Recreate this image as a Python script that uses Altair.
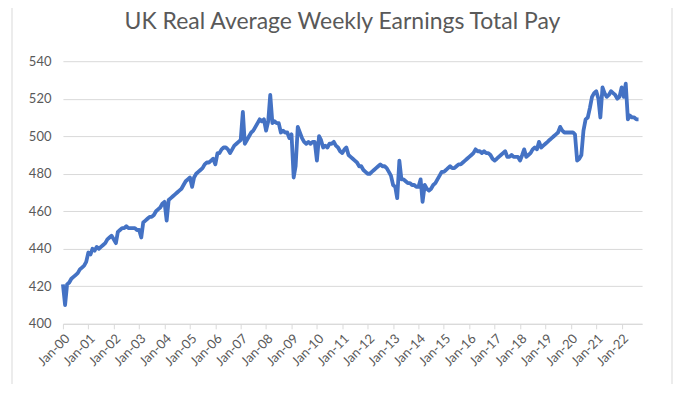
import altair as alt
import pandas as pd

# Monthly values (Jan-2000 .. Sep-2022)
y2000 = [421, 410, 421, 422, 424, 425, 426, 427, 429, 430, 431, 433]
y2001 = [438, 437, 440, 439, 441, 440, 441, 442, 443, 445, 446, 447]
y2002 = [445, 443, 449, 450, 451, 451, 452, 451, 451, 451, 451, 450]
y2003 = [450, 446, 454, 455, 456, 457, 457, 458, 460, 461, 462, 464]
y2004 = [465, 455, 466, 467, 468, 469, 470, 471, 472, 474, 476, 477]
y2005 = [478, 473, 478, 480, 481, 482, 483, 485, 486, 486, 487, 488]
y2006 = [485, 491, 491, 493, 494, 494, 493, 491, 493, 495, 496, 497]
y2007 = [498, 513, 496, 498, 500, 502, 503, 505, 507, 509, 508, 509]
y2008 = [503, 508, 522, 507, 508, 507, 507, 502, 503, 502, 502, 499]
y2009 = [501, 478, 484, 505, 502, 499, 497, 496, 497, 496, 497, 497]
y2010 = [487, 500, 498, 494, 495, 494, 496, 496, 497, 495, 494, 492]
y2011 = [491, 493, 494, 490, 489, 488, 487, 486, 484, 484, 482, 481]
y2012 = [480, 480, 481, 482, 483, 484, 485, 484, 484, 483, 481, 479]
y2013 = [474, 473, 467, 487, 477, 477, 476, 475, 475, 474, 474, 473]
y2014 = [473, 477, 465, 474, 472, 471, 472, 474, 475, 477, 479, 481]
y2015 = [481, 482, 483, 484, 483, 483, 484, 485, 485, 486, 487, 488]
y2016 = [489, 490, 491, 493, 492, 492, 491, 492, 491, 491, 490, 488]
y2017 = [487, 488, 489, 490, 491, 492, 489, 489, 490, 489, 489, 489]
y2018 = [487, 490, 493, 489, 490, 491, 493, 494, 493, 497, 494, 495]
y2019 = [496, 497, 498, 499, 500, 501, 502, 505, 503, 502, 502, 502]
y2020 = [502, 502, 501, 487, 488, 490, 503, 509, 510, 515, 521, 523]
y2021 = [524, 520, 510, 526, 523, 521, 522, 524, 523, 522, 520, 521]
y2022 = [526, 521, 528, 509, 511, 510, 510, 509, 509]

years = list(range(2000, 2023))
yearly = [y2000, y2001, y2002, y2003, y2004, y2005, y2006, y2007, y2008,
          y2009, y2010, y2011, y2012, y2013, y2014, y2015, y2016, y2017,
          y2018, y2019, y2020, y2021, y2022]

dates, values = [], []
for yr, vals in zip(years, yearly):
    for i, v in enumerate(vals):
        dates.append(f"{yr}-{i + 1:02d}-01T00:00:00")
        values.append(v)

df = pd.DataFrame({"date": dates, "value": values})

FONT = "Lato"
GREY = "#595959"

tick_dates = [alt.DateTime(year=y, month=1, date=1) for y in years]

line = alt.Chart(df).mark_line(color="#4472C4", strokeWidth=3.8, strokeJoin="round").encode(
    x=alt.X(
        "date:T",
        scale=alt.Scale(domain=[alt.DateTime(year=2000, month=1, date=1),
                                alt.DateTime(year=2022, month=10, date=22)]),
        axis=alt.Axis(
            values=tick_dates, format="%b-%y", labelAngle=-45, title=None,
            grid=False, domainColor="#d9d9d9", tickColor="#d9d9d9", tickSize=5,
            labelColor=GREY, labelFont=FONT, labelFontSize=13, labelPadding=3,
            labelOverlap=False,
        ),
    ),
    y=alt.Y(
        "value:Q",
        scale=alt.Scale(domain=[400, 540], nice=False, zero=False),
        axis=alt.Axis(
            values=list(range(400, 541, 20)), title=None, domain=False, ticks=False,
            gridColor="#d9d9d9", gridWidth=1, labelColor=GREY, labelFont=FONT,
            labelFontSize=13, labelPadding=12,
        ),
    ),
)

frame = alt.Chart(pd.DataFrame({"k": [0]})).mark_rect(
    fill=None, stroke="#d9d9d9", strokeWidth=1, clip=False
).encode(
    x=alt.value(-51), x2=alt.value(610), y=alt.value(-59), y2=alt.value(329)
)

chart = (
    alt.layer(frame, line)
    .properties(
        width=580,
        height=263,
        title=alt.TitleParams(
            "UK Real Average Weekly Earnings Total Pay",
            font=FONT, fontSize=23, fontWeight="normal", color=GREY,
            offset=-32, dx=-10,
        ),
        autosize=alt.AutoSizeParams(type="none"),
        padding={"left": 55, "top": 53, "right": 50, "bottom": 60},
    )
    .configure_view(stroke=None)
)

chart.save("out.html", embed_options={"renderer": "svg", "actions": False})
